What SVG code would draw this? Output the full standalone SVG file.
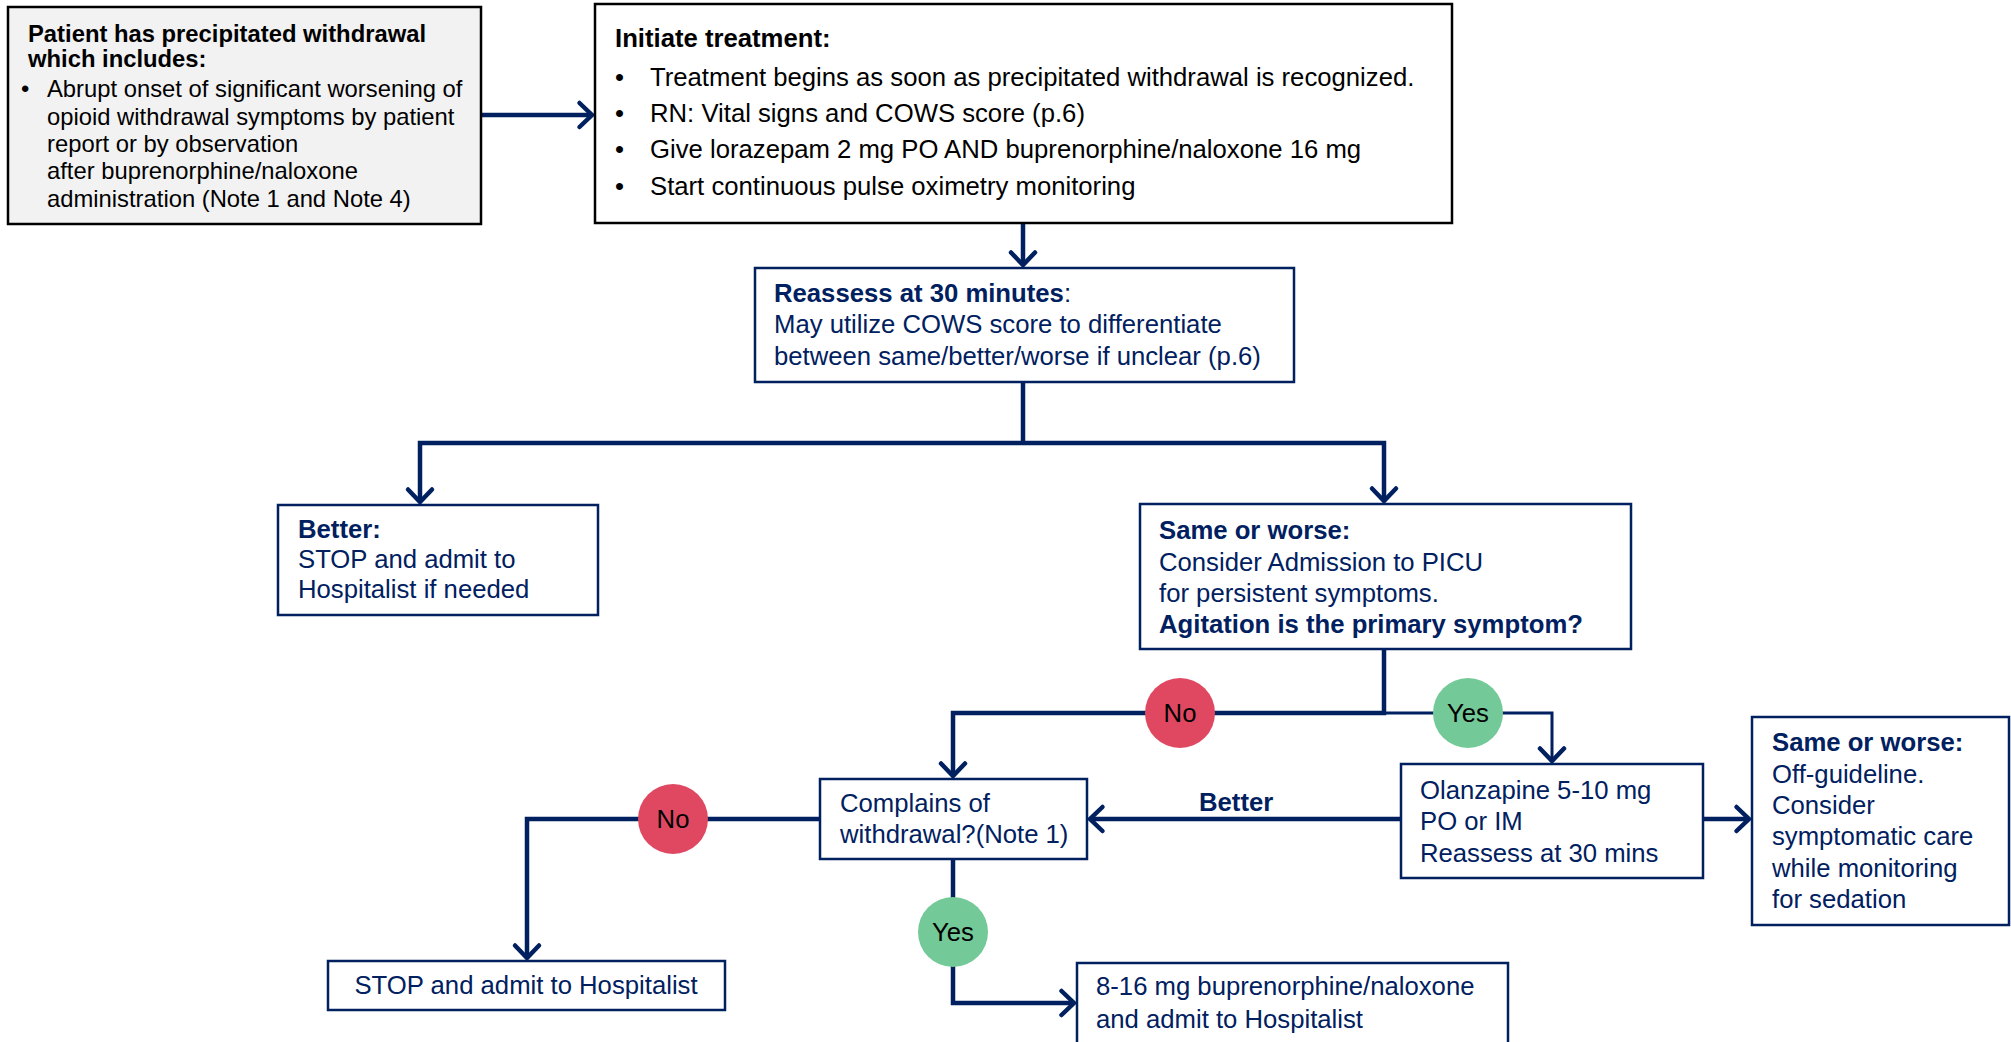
<svg xmlns="http://www.w3.org/2000/svg" width="2011" height="1042" viewBox="0 0 2011 1042">
  <defs>
    <style>
      text { font-family: "Liberation Sans", Arial, sans-serif; }
      .k { fill: #000000; font-size: 25.7px; }
      .k1 { fill: #000000; font-size: 23.8px; }
      .nv { fill: #002060; font-size: 25.7px; }
      .b { font-weight: bold; }
      .bx-k { fill: #ffffff; stroke: #000000; stroke-width: 2.5; }
      .bx-g { fill: #f2f2f2; stroke: #000000; stroke-width: 2.5; }
      .bx-n { fill: #ffffff; stroke: #002060; stroke-width: 2.5; }
      .ln { fill: none; stroke: #002060; stroke-width: 4.5; stroke-linejoin: miter; marker-end: url(#arw); }
      .ln.plain { marker-end: none; }
      .ln.thin { stroke-width: 3; }
      .no { fill: #e04862; }
      .yes { fill: #73c997; }
      .lbl { fill: #000000; font-size: 25.7px; text-anchor: middle; }
    </style>
    <!-- open chevron arrowhead used on every connector -->
    <marker id="arw" viewBox="-20 -16 26 32" markerWidth="26" markerHeight="32" refX="-2.5" refY="0" orient="auto" markerUnits="userSpaceOnUse">
      <path d="M-15,-12 L-2.5,0 L-15,12" fill="none" stroke="#002060" stroke-width="4.5" stroke-linecap="round" stroke-linejoin="miter"/>
    </marker>
  </defs>

  <rect width="2011" height="1042" fill="#ffffff"/>

  <!-- connectors -->
  <g id="connectors">
    <path class="ln" d="M481,115 H592"/>
    <path class="ln" d="M1023,223 V265"/>
    <path class="ln plain" d="M1023,382 V443"/>
    <path class="ln" d="M1023,443 H420 V502"/>
    <path class="ln" d="M1023,443 H1384 V501"/>
    <path class="ln" d="M1384,649 V713 H953 V776"/>
    <path class="ln thin" d="M1384,713 H1552 V761"/>
    <path class="ln" d="M1401,819 H1090"/>
    <path class="ln" d="M1703,819 H1749"/>
    <path class="ln" d="M820,819 H527 V958"/>
    <path class="ln" d="M953,859 V1003 H1074"/>
    <text class="nv b" x="1199" y="811">Better</text>
  </g>

  <!-- start condition -->
  <g id="n-precipitated">
    <rect class="bx-g" x="8" y="7" width="473" height="217"/>
    <text class="k1 b" x="28" y="42">Patient has precipitated withdrawal</text>
    <text class="k1 b" x="28" y="67">which includes:</text>
    <text class="k1" x="21" y="97">•</text>
    <text class="k1" x="47" y="97">Abrupt onset of significant worsening of</text>
    <text class="k1" x="47" y="124.5">opioid withdrawal symptoms by patient</text>
    <text class="k1" x="47" y="152">report or by observation</text>
    <text class="k1" x="47" y="179">after buprenorphine/naloxone</text>
    <text class="k1" x="47" y="207">administration (Note 1 and Note 4)</text>
  </g>

  <g id="n-initiate">
    <rect class="bx-k" x="595" y="4" width="857" height="219"/>
    <text class="k b" x="615" y="47">Initiate treatment:</text>
    <text class="k" x="615" y="86">•</text>
    <text class="k" x="650" y="86">Treatment begins as soon as precipitated withdrawal is recognized.</text>
    <text class="k" x="615" y="122">•</text>
    <text class="k" x="650" y="122">RN: Vital signs and COWS score (p.6)</text>
    <text class="k" x="615" y="158">•</text>
    <text class="k" x="650" y="158">Give lorazepam 2 mg PO AND buprenorphine/naloxone 16 mg</text>
    <text class="k" x="615" y="195">•</text>
    <text class="k" x="650" y="195">Start continuous pulse oximetry monitoring</text>
  </g>

  <g id="n-reassess">
    <rect class="bx-n" x="755" y="268" width="539" height="114"/>
    <text class="nv" x="774" y="302"><tspan class="b">Reassess at 30 minutes</tspan>:</text>
    <text class="nv" x="774" y="333">May utilize COWS score to differentiate</text>
    <text class="nv" x="774" y="365">between same/better/worse if unclear (p.6)</text>
  </g>

  <g id="n-better">
    <rect class="bx-n" x="278" y="505" width="320" height="110"/>
    <text class="nv b" x="298" y="538">Better:</text>
    <text class="nv" x="298" y="568">STOP and admit to</text>
    <text class="nv" x="298" y="598">Hospitalist if needed</text>
  </g>

  <g id="n-same-worse">
    <rect class="bx-n" x="1140" y="504" width="491" height="145"/>
    <text class="nv b" x="1159" y="539">Same or worse:</text>
    <text class="nv" x="1159" y="571">Consider Admission to PICU</text>
    <text class="nv" x="1159" y="602">for persistent symptoms.</text>
    <text class="nv b" x="1159" y="633">Agitation is the primary symptom?</text>
  </g>

  <g id="n-olanzapine">
    <rect class="bx-n" x="1401" y="764" width="302" height="114"/>
    <text class="nv" x="1420" y="799">Olanzapine 5-10 mg</text>
    <text class="nv" x="1420" y="830">PO or IM</text>
    <text class="nv" x="1420" y="862">Reassess at 30 mins</text>
  </g>

  <g id="n-off-guideline">
    <rect class="bx-n" x="1752" y="717" width="257" height="208"/>
    <text class="nv b" x="1772" y="751">Same or worse:</text>
    <text class="nv" x="1772" y="783">Off-guideline.</text>
    <text class="nv" x="1772" y="814">Consider</text>
    <text class="nv" x="1772" y="845">symptomatic care</text>
    <text class="nv" x="1772" y="877">while monitoring</text>
    <text class="nv" x="1772" y="908">for sedation</text>
  </g>

  <g id="n-complains">
    <rect class="bx-n" x="820" y="779" width="267" height="80"/>
    <text class="nv" x="840" y="812">Complains of</text>
    <text class="nv" x="840" y="843">withdrawal?(Note 1)</text>
  </g>

  <g id="n-stop">
    <rect class="bx-n" x="328" y="961" width="397" height="49"/>
    <text class="nv" x="526" y="994" text-anchor="middle">STOP and admit to Hospitalist</text>
  </g>

  <g id="n-bup">
    <rect class="bx-n" x="1077" y="963" width="431" height="95"/>
    <text class="nv" x="1096" y="995">8-16 mg buprenorphine/naloxone</text>
    <text class="nv" x="1096" y="1028">and admit to Hospitalist</text>
  </g>

  <!-- decision markers -->
  <g id="d-agitation-no">
    <circle class="no" cx="1180" cy="713" r="35"/>
    <text class="lbl" x="1180" y="722">No</text>
  </g>
  <g id="d-agitation-yes">
    <circle class="yes" cx="1468" cy="713" r="35"/>
    <text class="lbl" x="1468" y="722">Yes</text>
  </g>
  <g id="d-complains-no">
    <circle class="no" cx="673" cy="819" r="35"/>
    <text class="lbl" x="673" y="828">No</text>
  </g>
  <g id="d-complains-yes">
    <circle class="yes" cx="953" cy="932" r="35"/>
    <text class="lbl" x="953" y="941">Yes</text>
  </g>
</svg>
